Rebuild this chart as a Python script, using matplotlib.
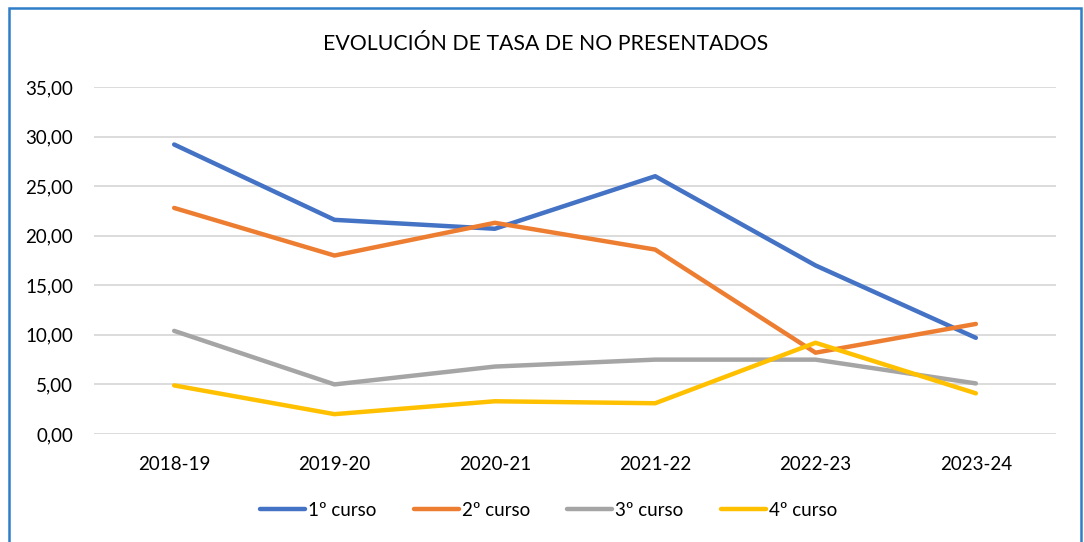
import matplotlib.pyplot as plt
from matplotlib.patches import Rectangle
from matplotlib.ticker import FuncFormatter

plt.rcParams['font.family'] = ['Lato', 'DejaVu Sans']

years = ["2018-19", "2019-20", "2020-21", "2021-22", "2022-23", "2023-24"]
curso1 = [29.2, 21.6, 20.7, 26.0, 17.0, 9.7]
curso2 = [22.8, 18.0, 21.3, 18.6, 8.2, 11.1]
curso3 = [10.4, 5.0, 6.8, 7.5, 7.5, 5.1]
curso4 = [4.9, 2.0, 3.3, 3.1, 9.2, 4.1]

series = [
    ("1º curso", curso1, "#4472C4"),
    ("2º curso", curso2, "#ED7D31"),
    ("3º curso", curso3, "#A5A5A5"),
    ("4º curso", curso4, "#FFC000"),
]

fig = plt.figure(figsize=(10.84, 5.42), dpi=100)
ax = fig.add_axes([0.0867, 0.1993, 0.8875, 0.6402])

x = range(len(years))
for name, vals, col in series:
    ax.plot(x, vals, color=col, linewidth=3.2, label=name, solid_capstyle="round")

ax.set_xlim(-0.5, len(years) - 0.5)
ax.set_ylim(0, 35)
ax.set_yticks(range(0, 36, 5))
ax.yaxis.set_major_formatter(FuncFormatter(lambda v, p: f"{v:.2f}".replace(".", ",")))
ax.set_xticks(list(x))
ax.set_xticklabels(years)
ax.grid(axis="y", color="#d9d9d9", linewidth=1.3)
ax.set_axisbelow(True)
for s in ax.spines.values():
    s.set_visible(False)
ax.tick_params(length=0, labelsize=13.5, colors="#000000")
ax.tick_params(axis="y", pad=15)
ax.tick_params(axis="x", pad=16)

fig.text(0.503, 0.918, "EVOLUCIÓN DE TASA DE NO PRESENTADOS", ha="center", va="center",
         fontsize=15.3)

fig.legend(loc="center", bbox_to_anchor=(0.506, 0.059), ncol=4, frameon=False,
           fontsize=13.5, handlelength=2.4, handletextpad=0.15, columnspacing=2.0)

frame = Rectangle((9 / 1084, -0.05), (1081 - 9) / 1084, 1.05 - 8 / 542,
                  transform=fig.transFigure, fill=False, edgecolor="#2F7FC8",
                  linewidth=1.8, clip_on=False)
fig.patches.append(frame)

fig.savefig("out.png", dpi=100)
